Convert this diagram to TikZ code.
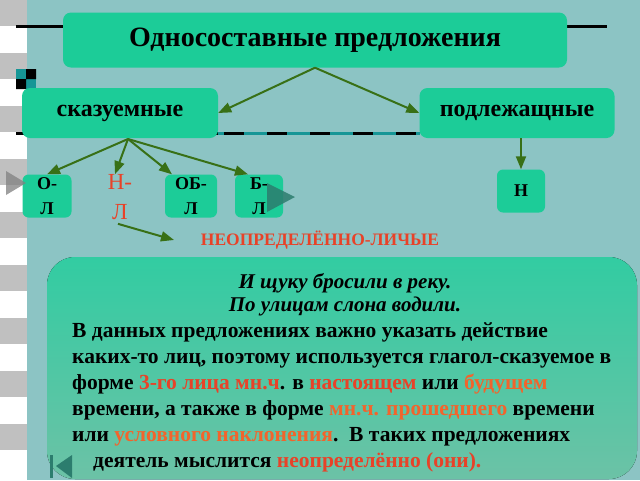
\documentclass[tikz,border=0pt]{standalone}
\usepackage{fontspec}
\setmainfont{Liberation Serif}
\usetikzlibrary{arrows.meta,positioning}

\definecolor{slidebg}{RGB}{140,196,196}
\definecolor{boxgreen}{RGB}{28,204,152}
\definecolor{arrgreen}{RGB}{56,112,22}
\definecolor{hotred}{RGB}{232,66,40}
\definecolor{warmred}{RGB}{242,100,44}
\definecolor{stripgray}{RGB}{192,192,192}
\definecolor{lineteal}{RGB}{22,150,150}
\definecolor{knobteal}{RGB}{44,125,110}
\definecolor{bigtop}{RGB}{50,204,162}
\definecolor{bigbot}{RGB}{108,194,166}

\begin{document}
\begin{tikzpicture}[x=1pt,y=-1pt,
  box/.style={fill=boxgreen,rounded corners=8pt,inner sep=0pt,
    font=\bfseries\fontsize{24}{26}\selectfont},
  small/.style={fill=boxgreen,rounded corners=6pt,inner sep=0pt,align=center,
    minimum height=43pt,font=\bfseries\fontsize{18}{25}\selectfont},
  arr/.style={arrgreen,line width=2pt,-{Triangle[length=13pt,width=10pt]}},
  body/.style={inner sep=0pt,font=\bfseries\fontsize{21.5}{26}\selectfont},
  example/.style={inner sep=0pt,font=\bfseries\itshape\fontsize{21}{26}\selectfont}
]
% background of the slide
\useasboundingbox (0,0) rectangle (640,480);
\fill[white] (0,0) rectangle (27,480);
\foreach \k in {0,...,8}
  \fill[stripgray] (0,53*\k) rectangle (27,53*\k+26);
\fill[slidebg] (27,0) rectangle (640,480);
\fill[lineteal] (16,69) rectangle (36,89);
\fill[black] (26,69) rectangle (36,79) (16,79) rectangle (26,89);
\draw[line width=3pt] (16,26) -- (607,26);
\draw[line width=3pt] (16,133) -- (218,133);
\draw[line width=3pt,lineteal] (218,133) -- (420,133);
\draw[line width=3pt,dash pattern=on 20pt off 23pt,dash phase=-6pt] (218,133) -- (420,133);

% the tree
\node[box,minimum width=504pt,minimum height=55pt,font=\bfseries\fontsize{28}{30}\selectfont]
  (title) at (315,40) {Односоставные предложения};
\node[box,minimum width=196pt,minimum height=50pt] (skaz) at (120,113) {сказуемные};
\node[box,minimum width=195pt,minimum height=50pt] (pod) at (517,113) {подлежащные};
\node[small,minimum width=49pt] (ol) at (47,196) {О-\\Л};
\node[align=center,text=hotred,inner sep=0pt,font=\fontsize{23}{30}\selectfont]
  (nl) at (120,197) {Н-\\Л};
\node[small,minimum width=52pt] (ob) at (191,196) {ОБ-\\Л};
\node[small,minimum width=48pt] (bl) at (259,196) {Б-\\Л};
\node[small,minimum width=48pt] (n) at (521,191) {Н};
\node[text=hotred,inner sep=0pt,font=\bfseries\fontsize{17.5}{19}\selectfont]
  (neop) at (320,240) {НЕОПРЕДЕЛЁННО-ЛИЧЫЕ};

\coordinate (fork) at (128,139);
\coordinate (neoptip) at (174,240);
\path[arr] (title.south) edge (skaz.east)
           (title.south) edge (pod.west)
           (fork) edge (ol.north)
           (fork) edge ([xshift=-5pt]nl.north)
           (fork) edge ([xshift=-19pt]ob.north)
           (fork) edge ([xshift=-11pt]bl.north)
           (pod.south -| n.north) edge (n.north)
           ([xshift=-2pt,yshift=-4pt]nl.south) edge (neoptip);

% play markers
\fill[gray,opacity=.75] (6,171) -- (26,183) -- (6,195) -- cycle;
\fill[knobteal,opacity=.85] (267,183) -- (295,197) -- (267,212) -- cycle;

% explanation
\fill[top color=bigtop,bottom color=bigbot,rounded corners=28pt] (47,257) rectangle (637,479);
\node[example] (ex1) at (345,283) {И щуку бросили в реку.};
\node[example] (ex2) at (345,306) {По улицам слона водили.};
\node[body,align=left,anchor=north west] (text) at (72,322) {%
В данных предложениях важно указать действие\\
каких-то лиц, поэтому используется глагол-сказуемое в\\
форме {\color{hotred}3-го лица мн.ч}. в {\color{hotred}настоящем} или {\color{warmred}будущем}\\
времени, а также в форме {\color{warmred}мн.ч. прошедшего} времени\\
или {\color{warmred}условного наклонения}.\ \ В таких предложениях\\
\hspace*{21pt}деятель мыслится {\color{hotred}неопределённо (они).}};
\fill[knobteal] (50,455) rectangle (53,478);
\fill[knobteal] (56,466) -- (72,455) -- (72,478) -- cycle;
\end{tikzpicture}
\end{document}
